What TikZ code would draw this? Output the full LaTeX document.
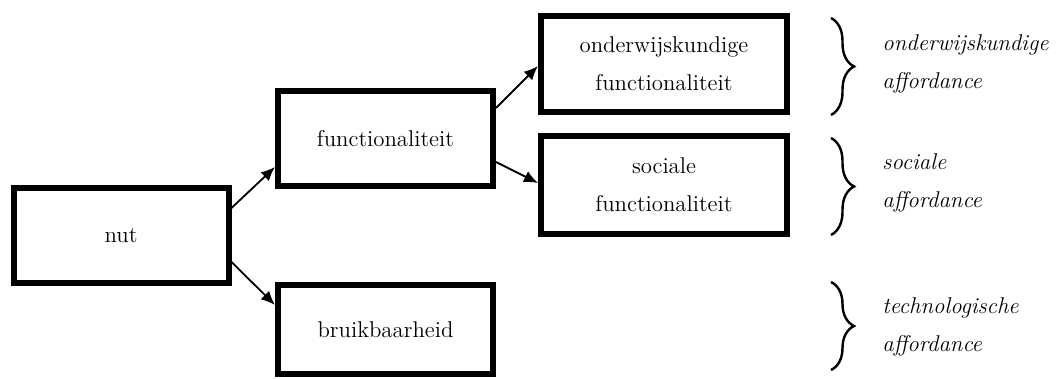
\documentclass[tikz,border=0pt]{standalone}
\usepackage{tikz}
\usetikzlibrary{arrows.meta,decorations.pathreplacing}

\tikzset{
  box/.style={draw, line width=3pt, inner sep=0pt, align=center,
    minimum width=107.5pt, minimum height=47.5pt,
    font=\fontsize{11.4}{19}\selectfont},
  widebox/.style={box, minimum width=123pt, minimum height=48pt},
  aff/.style={anchor=west, align=left, inner sep=0pt,
    font=\fontsize{11.4}{19}\selectfont\itshape},
  accolade/.style={decorate, line width=1.2pt,
    decoration={brace, amplitude=11.5pt}},
  >={Latex[length=7pt,width=6pt]}
}

\begin{document}
\begin{tikzpicture}[x=0.5pt, y=-0.5pt]
    \useasboundingbox (0, 0) rectangle (1059, 379);

    \node [box] (nut) at (121, 235.5) {nut};
    \node [box] (func) at (385.5, 138.5) {functionaliteit};
    \node [box, minimum height=44.5pt] (bruik) at (385.5, 329.5) {bruikbaarheid};
    \node [widebox] (onderw) at (664, 64) {onderwijskundige\\functionaliteit};
    \node [widebox, minimum height=49pt] (sociaal) at (664, 185) {sociale\\functionaliteit};

    \draw [->, line width=0.9pt] ([yshift=13.75pt]nut.east) -- ([yshift=-14.25pt]func.west);
    \draw [->, line width=0.9pt] ([yshift=-13.25pt]nut.east) -- ([yshift=12.25pt]bruik.west);
    \draw [->, line width=0.9pt] ([yshift=15.25pt]func.east) -- ([yshift=-1pt]onderw.west);
    \draw [->, line width=0.9pt] ([yshift=-11.75pt]func.east) -- ([yshift=1pt]sociaal.west);

    % accolades met affordances
    \draw [accolade] (831, 18) -- (831, 115);
    \draw [accolade] (831, 138) -- (831, 235);
    \draw [accolade] (831, 282) -- (831, 370);

    \node [aff] (aonderw) at (882, 64) {onderwijskundige\\affordance};
    \node [aff] (asociaal) at (882, 183) {sociale\\affordance};
    \node [aff] (atech) at (882, 327) {technologische\\affordance};
\end{tikzpicture}
\end{document}
